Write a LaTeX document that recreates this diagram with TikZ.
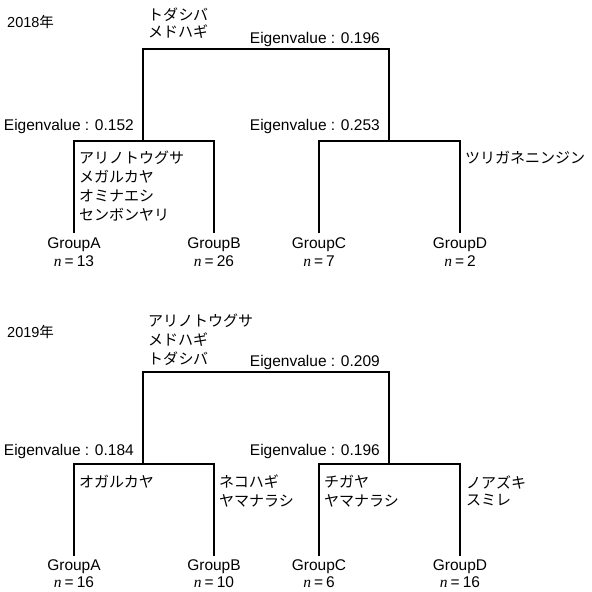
\documentclass[tikz,border=0pt]{standalone}
\usepackage{fontspec}
\setmainfont{Liberation Sans}
\newfontfamily\jpfont{Noto Sans CJK JP}
\newfontfamily\nserif{Liberation Serif}
\newcommand{\nlab}[1]{{\nserif\itshape n}\hspace{3pt}=\hspace{3pt}#1}
\begin{document}
\begin{tikzpicture}[x=1pt,y=-1pt,
  tree/.style={line width=1.6pt,black},
  lat/.style={inner sep=0pt,font=\fontsize{15.5}{18}\selectfont},
  jp/.style={inner sep=0pt,anchor=west,font=\jpfont\fontsize{15}{18}\selectfont},
  yr/.style={inner sep=0pt,anchor=west,font=\fontsize{14.5}{18}\selectfont},
  ev/.style={lat,anchor=base east},
  grp/.style={lat,anchor=base}]
\useasboundingbox (0,0) rectangle (592,592);

% ================= 2018 =================
\node[yr] (yr18) at (7,22) {2018{\jpfont 年}};
\node[jp] (top18a) at (148,15) {トダシバ};
\node[jp] (top18b) at (148,32) {メドハギ};
\node[ev] (ev18a) at (380,43) {Eigenvalue : 0.196};
\node[ev] (ev18b) at (134,130) {Eigenvalue : 0.152};
\node[ev] (ev18c) at (380,130) {Eigenvalue : 0.253};

\coordinate (R18l) at (143,49);
\coordinate (R18r) at (389,49);
\coordinate (L18) at (143,141);
\coordinate (M18) at (389,141);
\coordinate (A18t) at (74,141);
\coordinate (B18t) at (214,141);
\coordinate (C18t) at (319,141);
\coordinate (D18t) at (460,141);
\coordinate (A18b) at (74,233);
\coordinate (B18b) at (214,233);
\coordinate (C18b) at (319,233);
\coordinate (D18b) at (460,233);

\draw[tree] (L18) -- (R18l) -- (R18r) -- (M18);
\draw[tree] (A18b) -- (A18t) -- (B18t) -- (B18b);
\draw[tree] (C18b) -- (C18t) -- (D18t) -- (D18b);

\node[jp] (s18a) at (79,157.5) {アリノトウグサ};
\node[jp] (s18b) at (79,176.5) {メガルカヤ};
\node[jp] (s18c) at (79,195.5) {オミナエシ};
\node[jp] (s18d) at (79,214.5) {センボンヤリ};
\node[jp] (s18e) at (465,157.5) {ツリガネニンジン};

\node[grp] (gA18) at (74,248) {GroupA};
\node[grp] (gB18) at (214,248) {GroupB};
\node[grp] (gC18) at (319,248) {GroupC};
\node[grp] (gD18) at (460,248) {GroupD};
\node[grp] (nA18) at (74,266) {\nlab{13}};
\node[grp] (nB18) at (214,266) {\nlab{26}};
\node[grp] (nC18) at (319,266) {\nlab{7}};
\node[grp] (nD18) at (460,266) {\nlab{2}};

% ================= 2019 =================
\node[yr] (yr19) at (7,332) {2019{\jpfont 年}};
\node[jp] (top19a) at (148,321) {アリノトウグサ};
\node[jp] (top19b) at (148,340) {メドハギ};
\node[jp] (top19c) at (148,358.5) {トダシバ};
\node[ev] (ev19a) at (380,366) {Eigenvalue : 0.209};
\node[ev] (ev19b) at (134,455) {Eigenvalue : 0.184};
\node[ev] (ev19c) at (380,455) {Eigenvalue : 0.196};

\coordinate (R19l) at (143,372);
\coordinate (R19r) at (389,372);
\coordinate (L19) at (143,464);
\coordinate (M19) at (389,464);
\coordinate (A19t) at (74,464);
\coordinate (B19t) at (214,464);
\coordinate (C19t) at (319,464);
\coordinate (D19t) at (460,464);
\coordinate (A19b) at (74,556);
\coordinate (B19b) at (214,556);
\coordinate (C19b) at (319,556);
\coordinate (D19b) at (460,556);

\draw[tree] (L19) -- (R19l) -- (R19r) -- (M19);
\draw[tree] (A19b) -- (A19t) -- (B19t) -- (B19b);
\draw[tree] (C19b) -- (C19t) -- (D19t) -- (D19b);

\node[jp] (s19a) at (79,482) {オガルカヤ};
\node[jp] (s19b) at (219,482) {ネコハギ};
\node[jp] (s19c) at (219,500.5) {ヤマナラシ};
\node[jp] (s19d) at (324,482) {チガヤ};
\node[jp] (s19e) at (324,500.5) {ヤマナラシ};
\node[jp] (s19f) at (466,482) {ノアズキ};
\node[jp] (s19g) at (466,500.5) {スミレ};

\node[grp] (gA19) at (74,570) {GroupA};
\node[grp] (gB19) at (214,570) {GroupB};
\node[grp] (gC19) at (319,570) {GroupC};
\node[grp] (gD19) at (460,570) {GroupD};
\node[grp] (nA19) at (74,587) {\nlab{16}};
\node[grp] (nB19) at (214,587) {\nlab{10}};
\node[grp] (nC19) at (319,587) {\nlab{6}};
\node[grp] (nD19) at (460,587) {\nlab{16}};
\end{tikzpicture}
\end{document}
